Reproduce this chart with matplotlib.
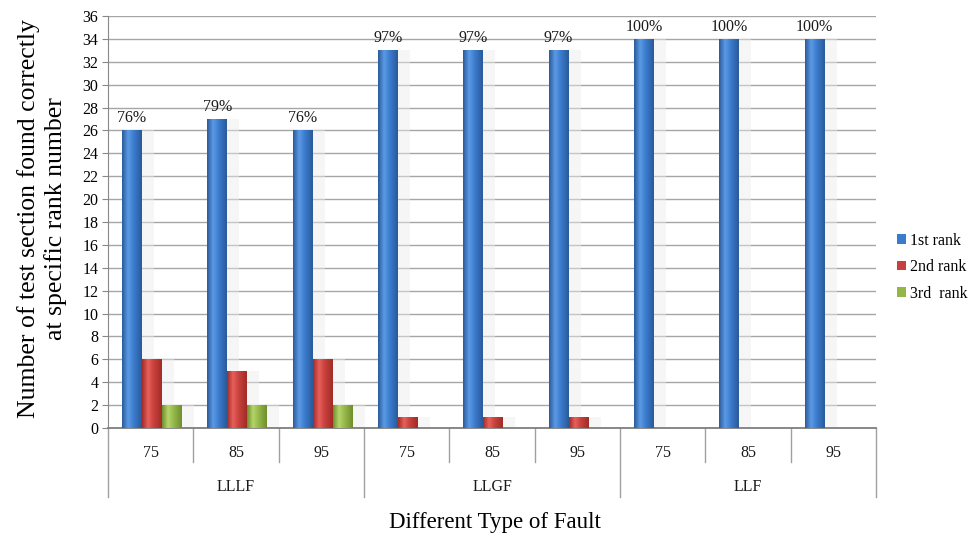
import numpy as np
import matplotlib
matplotlib.use("Agg")
import matplotlib.pyplot as plt
from matplotlib.colors import LinearSegmentedColormap
from matplotlib.patches import Rectangle
import matplotlib.transforms as mtransforms

plt.rcParams['font.family'] = ['Liberation Serif', 'DejaVu Serif']

# ---- data ----
fault_types = ["LLLF", "LLGF", "LLF"]
resistances = ["75", "85", "95"]
rank1 = [26, 27, 26, 33, 33, 33, 34, 34, 34]
rank2 = [6, 5, 6, 1, 1, 1, 0, 0, 0]
rank3 = [2, 2, 2, 0, 0, 0, 0, 0, 0]
total_sections = 34
series_names = ["1st rank", "2nd rank", "3rd  rank"]

# cylinder-like shading for each series: (edge, highlight, base)
shades = [
    ("#2a5a9a", "#5b9ae4", "#3b7bcd"),
    ("#a02c28", "#e8605a", "#c8403b"),
    ("#6f8f2c", "#b5d46a", "#94b649"),
]

fig = plt.figure(figsize=(9.76, 5.4), dpi=100)
ax = fig.add_axes([0.1107, 0.2074, 0.7869, 0.7630])

n = len(rank1)
x = np.arange(n)
width = 0.234
offsets = [-0.22, 0.015, 0.25]
series = [rank1, rank2, rank3]

ax.set_xlim(-0.5, n - 0.5)
ax.set_ylim(0, 36)

grad = np.linspace(0, 1, 64).reshape(1, -1)
for vals, off, (edge, hi, base) in zip(series, offsets, shades):
    cmap = LinearSegmentedColormap.from_list(
        "cyl", [(0.0, edge), (0.3, hi), (0.6, base), (1.0, edge)])
    bars = ax.bar(x + off, vals, width, color=base, linewidth=0, zorder=3)
    for b, v in zip(bars, vals):
        if v <= 0:
            continue
        x0 = b.get_x()
        # soft shadow to the right of the bar
        ax.add_patch(Rectangle((x0 + width, 0), width * 0.6, v,
                               facecolor="#ececec", alpha=0.45,
                               linewidth=0, zorder=2.5))
        im = ax.imshow(grad, cmap=cmap, aspect="auto",
                       extent=(x0, x0 + width, 0, v), zorder=3.5,
                       interpolation="bilinear")
        im.set_clip_path(b)

ax.set_xlim(-0.5, n - 0.5)
ax.set_ylim(0, 36)

# percentage labels above the 1st-rank bars
for xi, v in zip(x, rank1):
    pct = round(v / total_sections * 100)
    ax.text(xi + offsets[0], v + 0.35, f"{pct}%", ha="center", va="bottom",
            fontsize=11.5, color="#1a1a1a", zorder=5)

# y axis
ax.set_yticks(np.arange(0, 37, 2))
ax.tick_params(axis="y", length=4, color="#888888", labelsize=11.5,
               pad=3, direction="out")
ax.yaxis.grid(True, color="#a6a6a6", linewidth=1.0, zorder=0)
ax.set_axisbelow(True)
for side in ("top", "right"):
    ax.spines[side].set_visible(False)
ax.spines["left"].set_color("#888888")
ax.spines["bottom"].set_color("#7f7f7f")
ax.spines["bottom"].set_linewidth(1.3)

# two-level category axis
ax.set_xticks([])
trans = mtransforms.blended_transform_factory(ax.transData, ax.transAxes)
for i in range(n):
    ax.text(x[i], -0.061, resistances[i % 3], transform=trans,
            ha="center", va="center", fontsize=11.5, color="#1a1a1a")
for g, name in enumerate(fault_types):
    ax.text(g * 3 + 1, -0.142, name, transform=trans,
            ha="center", va="center", fontsize=11.5, color="#1a1a1a")
for k in range(n + 1):
    xb = k - 0.5
    depth = -0.1675 if k % 3 == 0 else -0.0825
    ax.plot([xb, xb], [0, depth], transform=trans, color="#a0a0a0",
            linewidth=1.0, clip_on=False, zorder=1)

fig.text(0.5076, 0.0315, "Different Type of Fault", ha="center",
         va="center", fontsize=16.5)
fig.text(0.043, 0.595, "Number of test section found correctly\nat specific rank number",
         ha="center", va="center", rotation=90, fontsize=18.5, linespacing=1.2)

handles = [Rectangle((0, 0), 1, 1, facecolor=s[2], edgecolor="none")
           for s in shades]
fig.legend(handles, series_names, loc="center left",
           bbox_to_anchor=(0.913, 0.505), frameon=False, fontsize=11.5,
           handlelength=0.55, handleheight=0.55, handletextpad=0.25,
           labelspacing=0.65, borderaxespad=0)

fig.savefig("out.png", dpi=100)
